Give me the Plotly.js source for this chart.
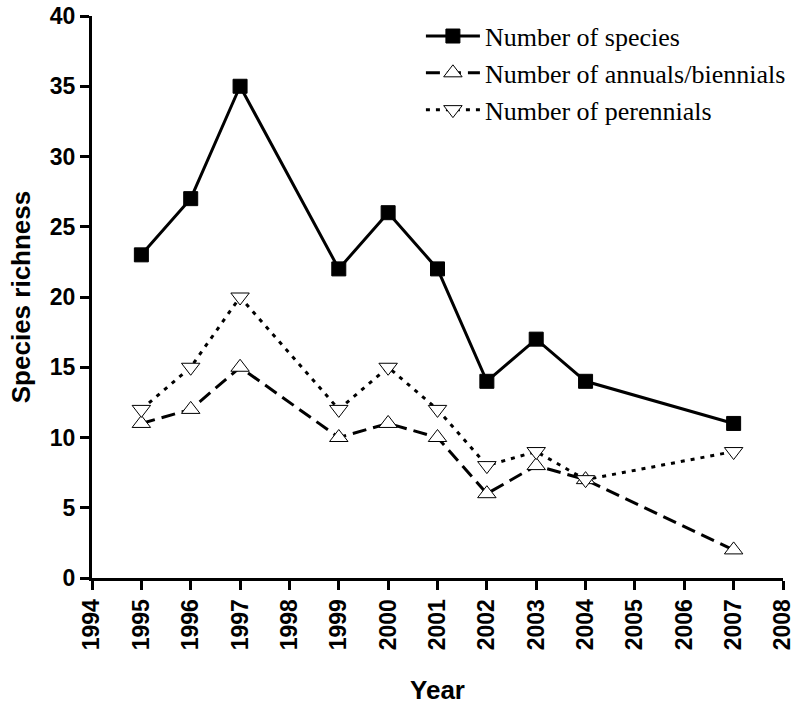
<!DOCTYPE html>
<html>
<head>
<meta charset="utf-8">
<script src="https://cdn.plot.ly/plotly-3.0.1.min.js"></script>
<style>html,body{margin:0;padding:0;background:#fff;}#chart{width:803px;height:707px;}</style>
</head>
<body>
<div id="chart"></div>
<script>
const years = [1995, 1996, 1997, 1999, 2000, 2001, 2002, 2003, 2004, 2007];
const speciesCount = [23, 27, 35, 22, 26, 22, 14, 17, 14, 11];
const annualsCount = [11, 12, 15, 10, 11, 10, 6, 8, 7, 2];
const perennialsCount = [12, 15, 20, 12, 15, 12, 8, 9, 7, 9];
const xTicks = [1994,1995,1996,1997,1998,1999,2000,2001,2002,2003,2004,2005,2006,2007,2008];
const yTicks = [0,5,10,15,20,25,30,35,40];

const traces = [
  {x: years, y: speciesCount, name: 'Number of species', mode: 'lines+markers', cliponaxis: false,
   line: {color: '#000', width: 3},
   marker: {symbol: 'square', size: 14, color: '#000', line: {color: '#000', width: 1}}},
  {x: years, y: annualsCount, name: 'Number of annuals/biennials', mode: 'lines+markers', cliponaxis: false,
   line: {color: '#000', width: 3, dash: '14px,7px'},
   marker: {symbol: 'triangle-up', size: 16, color: '#fff', line: {color: '#000', width: 1}}},
  {x: years, y: perennialsCount, name: 'Number of perennials', mode: 'lines+markers', cliponaxis: false,
   line: {color: '#000', width: 3, dash: '4px,6px'},
   marker: {symbol: 'triangle-down', size: 16, color: '#fff', line: {color: '#000', width: 1}}}
];

function tf() { return {family: 'Liberation Sans', size: 23, color: '#000', weight: 700}; }
const layout = {
  width: 803, height: 707,
  margin: {l: 92, r: 13, t: 16, b: 129},
  paper_bgcolor: '#fff', plot_bgcolor: '#fff',
  showlegend: true,
  legend: {x: 0.476, y: 1.006, xanchor: 'left', yanchor: 'top', bgcolor: 'rgba(0,0,0,0)',
           font: {family: 'Liberation Serif', size: 26, color: '#000'},
           itemwidth: 54, tracegroupgap: 0},
  xaxis: {range: [1994, 2008], tickmode: 'array', tickvals: xTicks, ticktext: xTicks.map(v => String(v)), tickangle: -90,
          showgrid: false, zeroline: false, showline: true, linecolor: '#000', linewidth: 3,
          ticks: 'outside', ticklen: 9, tickwidth: 3, tickcolor: '#000', tickfont: tf(),
          title: {text: 'Year', font: {family: 'Liberation Sans', size: 26, color: '#000', weight: 700}, standoff: 32}},
  yaxis: {range: [0, 40], tickmode: 'array', tickvals: yTicks, showgrid: false, zeroline: false, showline: true,
          linecolor: '#000', linewidth: 3, ticks: 'outside', ticklen: 9, tickwidth: 3, tickcolor: '#000',
          tickfont: tf(),
          title: {text: 'Species richness', font: {family: 'Liberation Sans', size: 26, color: '#000', weight: 700}, standoff: 12}}
};
Plotly.newPlot('chart', traces, layout, {displayModeBar: false, staticPlot: true});
</script>
</body>
</html>
